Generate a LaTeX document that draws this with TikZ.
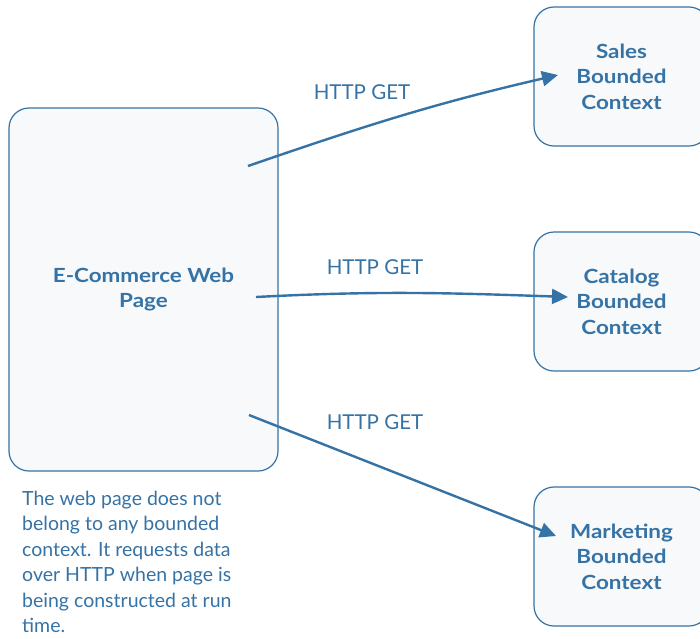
\documentclass[tikz,border=0pt]{standalone}
\usepackage{fontspec}
\setmainfont{Lato}[BoldFeatures={FakeStretch=1.15}]
\usetikzlibrary{arrows.meta}
\definecolor{ctxblue}{HTML}{3572A5}
\definecolor{ctxfill}{HTML}{F7F9FA}
\tikzset{
  ctxbox/.style={draw=ctxblue, line width=1.2pt, fill=ctxfill, rounded corners=20pt,
    text=ctxblue, font=\bfseries\fontsize{19.5}{25.5}\selectfont, align=center,
    inner sep=0pt},
  getlabel/.style={text=ctxblue, font=\fontsize{20.5}{24}\selectfont},
  getarrow/.style={draw=ctxblue, line width=2.4pt, -{Triangle[length=16pt,width=15pt]}},
}

\begin{document}
\begin{tikzpicture}[x=1pt,y=-1pt]
      \useasboundingbox (0,0) rectangle (700,638);
      \node[ctxbox, minimum width=269pt, minimum height=363pt] (web) at (143.5,289.5)
        {E-Commerce Web\\Page};
      \node[ctxbox, minimum width=175pt, minimum height=139pt] (sales) at (621.5,76.5)
        {Sales\\Bounded\\Context};
      \node[ctxbox, minimum width=175pt, minimum height=139pt] (catalog) at (621.5,301.5)
        {Catalog\\Bounded\\Context};
      \node[ctxbox, minimum width=175pt, minimum height=139pt] (marketing) at (621.5,556.5)
        {Marketing\\Bounded\\Context};
      % start and end points of the calls
      \coordinate (s1) at (248,166);
      \coordinate (e1) at (558,75);
      \coordinate (s2) at (256,297);
      \coordinate (e2) at (568,297);
      \coordinate (s3) at (249,415);
      \coordinate (e3) at (556,536);
      \draw[getarrow] (s1) to[out=19,in=193] (e1);   % Sales
      \draw[getarrow] (s2) to[out=3,in=178] (e2);    % Catalog
      \draw[getarrow] (s3) -- (e3);                  % Marketing
      \node[getlabel] (get1) at (362,92)  {HTTP GET};
      \node[getlabel] (get2) at (375,267) {HTTP GET};
      \node[getlabel] (get3) at (375,422) {HTTP GET};
      \node[text=ctxblue, font=\fontsize{19.5}{25.4}\selectfont, align=left, anchor=north west,
        inner sep=0pt] (note) at (22,491)
        {The web page does not\\belong to any bounded\\context. It requests data\\over HTTP when page is\\being constructed at run\\time.};
    \end{tikzpicture}
\end{document}
